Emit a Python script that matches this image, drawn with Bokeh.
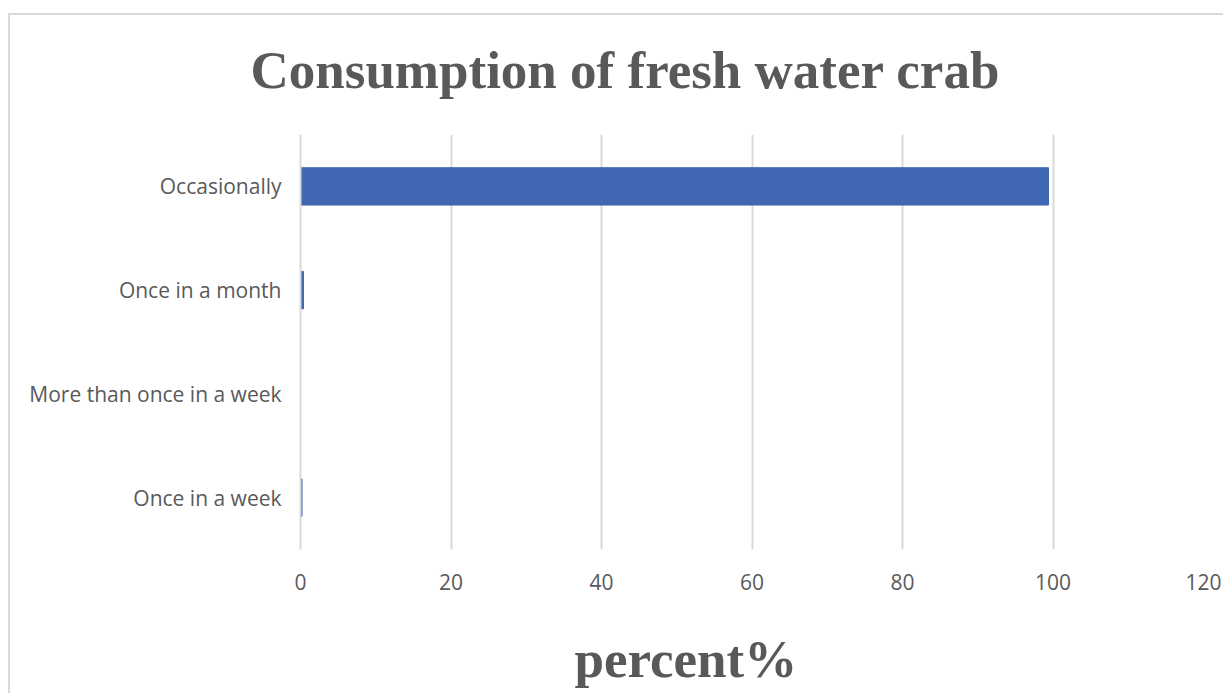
from bokeh.plotting import figure
from bokeh.models import Title, FactorRange, Range1d, FixedTicker
from bokeh.embed import file_html
from bokeh.resources import INLINE

# Frequency of consumption (top to bottom as listed)
categories = ["Occasionally", "Once in a month", "More than once in a week", "Once in a week"]
percent = [99.4, 0.4, 0.0, 0.2]
x_ticks = [0, 20, 40, 60, 80, 100, 120]

TEXT = "#595959"
GRID = "#d9d9d9"
BAR = "#4068B2"

# light chart-area edge along the top and left
chart_edge = {
    "background-color": "white",
    "background-image": "linear-gradient(#d9d9d9, #d9d9d9), linear-gradient(#d9d9d9, #d9d9d9)",
    "background-size": "100% 2px, 2px 100%",
    "background-position": "8px 13px, 8px 13px",
    "background-repeat": "no-repeat",
}

p = figure(
    width=1223, height=693,
    y_range=FactorRange(factors=list(reversed(categories)), range_padding=0),
    x_range=Range1d(0, 120),
    output_backend="svg", toolbar_location=None,
    min_border_left=300, min_border_right=20,
    min_border_top=134, min_border_bottom=144,
    styles=chart_edge,
)
p.outline_line_color = None
p.border_fill_color = None
p.background_fill_color = None

p.hbar(y=categories, right=percent, left=0, height=0.36, color=BAR)

p.xaxis.ticker = FixedTicker(ticks=x_ticks)
p.xaxis.axis_line_color = None
p.xaxis.major_tick_line_color = None
p.xaxis.minor_tick_line_color = None
p.xaxis.major_label_text_font = "Open Sans"
p.xaxis.major_label_text_font_size = "21px"
p.xaxis.major_label_text_color = TEXT
p.xaxis.major_label_standoff = 18

p.yaxis.axis_line_color = GRID
p.yaxis.axis_line_width = 2
p.yaxis.major_tick_line_color = None
p.yaxis.minor_tick_line_color = None
p.yaxis.major_label_text_font = "Open Sans"
p.yaxis.major_label_text_font_size = "21px"
p.yaxis.major_label_text_color = TEXT
p.yaxis.major_label_standoff = 13

p.xgrid.grid_line_color = GRID
p.xgrid.grid_line_width = 2
p.ygrid.grid_line_color = None

title = Title(text="Consumption of fresh water crab", align="left", offset=-50,
              standoff=72, text_font="Liberation Serif", text_font_style="bold",
              text_font_size="53px", text_color=TEXT)
p.add_layout(title, "above")

# blank one-pixel panel: keeps room between the tick labels and the axis title
spacer = Title(text=" ", text_font_size="1px", standoff=34)
p.add_layout(spacer, "below")

xlabel = Title(text="percent%", align="left", offset=274, standoff=0,
               vertical_align="top",
               text_font="Liberation Serif", text_font_style="bold",
               text_font_size="53px", text_color=TEXT)
p.add_layout(xlabel, "below")

open("out.html", "w").write(file_html(p, INLINE))
